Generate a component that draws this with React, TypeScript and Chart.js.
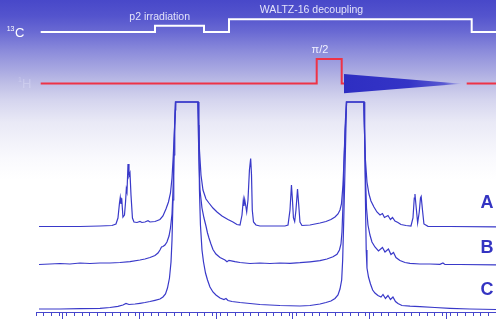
import React, { useEffect, useRef } from 'react';
import { Chart, registerables } from 'chart.js';

Chart.register(...registerables);

// ---------- Spectrum axis (arbitrary shift units, major tick every 10) ----------
const X_MIN = 6.52;
const X_MAX = 66.52;
const majorTicks = [10, 20, 30, 40, 50, 60];

// ---------- Spectra (x = shift units, y = stacked intensity, clipped at 210) ----------
const traceA: [number, number][] = [
  [6.91, 85.5], [12.26, 85.5], [14.87, 86], [16.43, 86.5], [16.95, 88], [17.21, 94], [17.41, 109],
  [17.51, 114.5], [17.6, 108], [17.7, 113.7], [17.86, 95], [18.06, 97], [18.19, 109], [18.3, 123],
  [18.39, 120], [18.52, 148], [18.65, 136], [18.78, 139], [18.91, 117], [19.1, 94], [19.3, 90],
  [19.69, 89.5], [20.08, 90.5], [20.34, 89.5], [20.73, 90], [21.13, 91.3], [21.39, 90], [22.04, 90.5],
  [22.69, 92.5], [23.08, 96], [23.47, 103], [23.8, 110], [24.06, 119], [24.26, 134], [24.43, 157],
  [24.58, 182], [24.71, 202], [24.75, 210], [27.67, 210], [27.73, 192], [27.84, 162], [28.04, 137],
  [28.3, 122], [28.69, 113], [29.08, 109], [29.6, 104], [30.13, 100], [30.78, 96], [31.56, 92.5],
  [32.21, 90], [32.73, 87.5], [33.13, 87], [33.39, 97], [33.56, 112], [33.65, 106], [33.74, 112.5],
  [33.84, 108], [34.0, 100], [34.17, 112], [34.36, 142], [34.52, 153.5], [34.63, 137], [34.73, 102],
  [34.89, 90], [35.21, 87], [35.73, 86], [37.04, 86], [38.99, 86], [39.39, 87], [39.65, 102],
  [39.84, 127], [39.97, 112], [40.1, 94], [40.26, 90.5], [40.43, 102], [40.63, 123], [40.79, 107],
  [40.95, 90], [41.21, 86.5], [42.26, 87], [43.56, 89], [44.34, 90.5], [44.99, 92.5], [45.52, 95],
  [45.91, 98], [46.17, 102], [46.36, 108], [46.56, 127], [46.75, 162], [46.92, 192], [47.04, 210],
  [49.26, 210], [49.36, 182], [49.49, 152], [49.69, 130], [49.95, 118], [50.21, 111], [50.6, 105],
  [50.99, 100], [51.39, 97], [51.71, 98.5], [51.97, 94.5], [52.43, 96.5], [52.75, 92.5], [53.02, 94.5],
  [53.34, 91], [53.73, 89.5], [54.12, 87.5], [54.78, 86.5], [55.43, 86], [55.69, 94], [55.86, 114],
  [55.95, 118], [56.08, 107], [56.3, 89], [56.51, 100], [56.67, 114], [56.76, 115.5], [56.93, 102],
  [57.12, 88], [57.65, 85.7], [60.52, 85.5], [66.52, 85.2],
];

const traceB: [number, number][] = [
  [6.91, 47.5], [8.34, 48], [9.65, 48.5], [10.95, 48], [12.26, 49], [13.56, 48.5], [14.87, 49],
  [16.17, 49], [17.47, 49.5], [18.78, 50.3], [20.08, 52], [20.73, 53], [21.39, 54.5], [22.04, 56.5],
  [22.43, 59], [22.69, 62], [22.89, 65], [23.08, 65.5], [23.34, 67], [23.6, 70], [23.87, 76],
  [24.06, 84], [24.26, 98], [24.39, 122], [24.52, 157], [24.62, 187], [24.73, 210], [27.62, 210],
  [27.67, 187], [27.78, 152], [27.91, 122], [28.17, 104], [28.43, 94], [28.69, 86], [28.89, 79],
  [29.08, 74], [29.34, 68], [29.6, 62.5], [29.99, 58], [30.52, 54.5], [31.17, 52], [31.43, 50.3],
  [31.69, 51.7], [32.47, 50.3], [33.13, 49.5], [34.43, 48.5], [35.73, 49], [37.04, 48.5], [38.34, 49],
  [39.65, 48.7], [40.95, 49.3], [42.26, 50.2], [43.56, 51.3], [44.47, 53], [45.26, 55.3], [45.78, 57.7],
  [46.1, 62], [46.3, 68], [46.43, 80], [46.56, 107], [46.69, 147], [46.82, 182], [47.0, 210],
  [49.3, 210], [49.38, 177], [49.49, 137], [49.63, 104], [49.82, 87], [50.08, 77], [50.34, 70],
  [50.73, 65], [51.19, 61], [51.71, 64.5], [52.04, 60], [52.49, 63], [52.82, 57.5], [53.15, 59.5],
  [53.47, 54.5], [53.99, 51.5], [54.65, 49.5], [55.3, 48.7], [56.6, 48], [57.91, 48], [59.21, 47.7],
  [59.6, 49], [59.86, 47.5], [61.82, 47.5], [66.52, 47.2],
];

const traceC: [number, number][] = [
  [6.91, 3], [9.65, 3], [12.26, 3.3], [14.87, 3.7], [16.17, 4.5], [17.21, 5.7], [17.86, 7],
  [18.26, 8.5], [18.65, 7.5], [19.43, 8], [20.08, 8.7], [20.73, 9.5], [21.39, 10.5], [22.04, 11.7],
  [22.69, 13], [23.08, 15], [23.41, 18], [23.67, 24], [23.93, 34], [24.13, 50], [24.26, 72],
  [24.39, 112], [24.49, 152], [24.6, 187], [24.7, 210], [27.7, 210], [27.76, 172], [27.84, 122],
  [27.97, 87], [28.17, 62], [28.37, 50], [28.63, 39], [28.89, 32], [29.21, 25], [29.6, 20],
  [29.99, 17], [30.52, 14], [31.04, 12.5], [31.3, 13.5], [31.56, 11.5], [32.08, 10.5], [33.13, 9.5],
  [34.43, 8.5], [35.73, 7.5], [38.34, 6.5], [40.95, 6], [42.26, 6.5], [43.56, 8], [44.34, 9.5],
  [44.99, 11], [45.52, 13.5], [45.91, 17], [46.17, 23], [46.39, 32], [46.52, 52], [46.66, 92],
  [46.79, 132], [46.91, 172], [47.02, 210], [49.33, 210], [49.4, 172], [49.49, 112], [49.59, 62],
  [49.69, 44], [49.89, 35], [50.15, 28], [50.43, 22], [50.73, 19], [51.12, 16.5], [51.52, 15],
  [51.78, 17.5], [52.1, 13.5], [52.43, 16.5], [52.75, 12.5], [53.08, 15], [53.41, 10.5], [53.73, 8.5],
  [54.25, 6.5], [55.3, 5.8], [56.6, 5.3], [58.56, 4.5], [60.52, 3.7], [63.12, 3], [66.52, 2.5],
];

const traceNames = ['A', 'B', 'C'];
const traceNameX = 65.34;
const traceNameY = [103.7, 58.7, 17.5];

// ---------- Pulse sequence (t = time units, level = schematic height) ----------
const carbonTimes = [4.7, 119, 119, 168, 168, 193, 193, 435.7, 435.7, 460];
const carbonLevels = [280, 280, 286.3, 286.3, 280, 280, 292.7, 292.7, 280, 280];
const protonTimes = [4.7, 280.7, 280.7, 305.7, 305.7, 308, 369, 430.7, 460];
const protonLevels = [228.5, 228.5, 253, 253, 228.5, 228.5, null, 228.5, 228.5];
const fidTimes = [308, 425.7];
const fidUpper = [238, 228.3];
const fidLower = [218.7, 228.3];

const seqTexts: { text: string; t: number; level: number; size: number; align: CanvasTextAlign; color: string }[] = [
  { text: 'p2 irradiation', t: 123.7, level: 292.5, size: 10.5, align: 'center', color: '#e2e2fa' },
  { text: 'WALTZ-16 decoupling', t: 275.5, level: 298.6, size: 10.5, align: 'center', color: '#e2e2fa' },
  { text: 'π/2', t: 284, level: 259.5, size: 11, align: 'center', color: '#f0f0ff' },
  { text: '13', t: -29.3, level: 281.3, size: 7, align: 'left', color: '#ffffff' },
  { text: 'C', t: -21, level: 275.3, size: 13, align: 'left', color: '#ffffff' },
  { text: '1', t: -18, level: 230, size: 7, align: 'left', color: 'rgba(235,235,255,0.3)' },
  { text: 'H', t: -14, level: 224.5, size: 13, align: 'left', color: 'rgba(235,235,255,0.3)' },
];

const bgStops: [number, string][] = [
  [0, '#4848c9'], [0.05, '#5454cd'], [0.1, '#6a6ad3'], [0.16, '#8c8cdb'], [0.26, '#bebee6'],
  [0.31, '#d4d4ee'], [0.38, '#e9e9f6'], [0.49, '#f9f9fd'], [0.56, '#ffffff'], [1, '#ffffff'],
];

const TRACE_COLOR = '#3939c9';
const AXIS_COLOR = '#4646cc';
const FID_COLOR = '#3232c4';
const FONT = '"Liberation Sans", Arial, Helvetica, sans-serif';

const toPts = (arr: [number, number][]) => arr.map(([x, y]) => ({ x, y }));
const zip = (xs: number[], ys: (number | null)[]) => xs.map((x, i) => ({ x, y: ys[i] }));

const decorPlugin = {
  id: 'decor',
  beforeDraw(chart: any) {
    const { ctx, width, height } = chart;
    const g = ctx.createLinearGradient(0, 0, 0, height);
    bgStops.forEach(([o, c]) => g.addColorStop(o, c));
    ctx.save();
    ctx.fillStyle = g;
    ctx.fillRect(0, 0, width, height);
    ctx.restore();
  },
  afterDraw(chart: any) {
    const { ctx, scales, chartArea } = chart;
    const sx = scales.x, sy = scales.y, xt = scales.xt, ys = scales.ys;
    ctx.save();
    // major ticks
    ctx.strokeStyle = AXIS_COLOR;
    ctx.lineWidth = 1;
    const yb = chartArea.bottom;
    majorTicks.forEach((v) => {
      const px = Math.round(sx.getPixelForValue(v) - 0.5) + 0.5;
      ctx.beginPath();
      ctx.moveTo(px, yb);
      ctx.lineTo(px, yb + 7);
      ctx.stroke();
    });
    // trace labels
    ctx.fillStyle = '#3434c2';
    ctx.font = `bold 18px ${FONT}`;
    ctx.textAlign = 'center';
    ctx.textBaseline = 'alphabetic';
    traceNames.forEach((n, i) => {
      ctx.fillText(n, sx.getPixelForValue(traceNameX), sy.getPixelForValue(traceNameY[i]));
    });
    // pulse sequence labels
    seqTexts.forEach((s) => {
      ctx.font = `${s.size}px ${FONT}`;
      ctx.fillStyle = s.color;
      ctx.textAlign = s.align;
      ctx.fillText(s.text, xt.getPixelForValue(s.t), ys.getPixelForValue(s.level));
    });
    ctx.restore();
  },
};

function fidGradient(c: any) {
  const ch = c.chart;
  const { ctx, chartArea } = ch;
  const st = ch.scales && ch.scales.xt;
  if (!chartArea || !st) return FID_COLOR;
  const x0 = st.getPixelForValue(fidTimes[0]);
  const x1 = st.getPixelForValue(fidTimes[1]);
  if (!isFinite(x0) || !isFinite(x1) || x1 <= x0) return FID_COLOR;
  const g = ctx.createLinearGradient(x0, 0, x1, 0);
  g.addColorStop(0, '#2e2ec2');
  g.addColorStop(0.55, '#3434c6');
  g.addColorStop(0.85, '#5a5ad2');
  g.addColorStop(1, '#b4b4e8');
  return g;
}

export default function App() {
  const ref = useRef<HTMLCanvasElement | null>(null);

  useEffect(() => {
    if (!ref.current) return;
    const spectrum = {
      borderColor: TRACE_COLOR,
      borderWidth: 1.2,
      pointRadius: 0,
      tension: 0,
      fill: false,
      xAxisID: 'x',
      yAxisID: 'y',
    };
    const chart = new Chart(ref.current, {
      type: 'line',
      data: {
        datasets: [
          {
            label: '13C',
            data: zip(carbonTimes, carbonLevels),
            borderColor: '#ffffff',
            borderWidth: 2,
            pointRadius: 0,
            tension: 0,
            fill: false,
            xAxisID: 'xt',
            yAxisID: 'ys',
          },
          {
            label: '1H',
            data: zip(protonTimes, protonLevels),
            borderColor: '#ee3346',
            borderWidth: 2,
            pointRadius: 0,
            tension: 0,
            fill: false,
            spanGaps: false,
            xAxisID: 'xt',
            yAxisID: 'ys',
          },
          {
            label: 'FID upper',
            data: zip(fidTimes, fidUpper),
            borderColor: 'rgba(0,0,0,0)',
            borderWidth: 0,
            pointRadius: 0,
            tension: 0,
            fill: '+1',
            backgroundColor: fidGradient,
            xAxisID: 'xt',
            yAxisID: 'ys',
          },
          {
            label: 'FID lower',
            data: zip(fidTimes, fidLower),
            borderColor: 'rgba(0,0,0,0)',
            borderWidth: 0,
            pointRadius: 0,
            tension: 0,
            fill: false,
            xAxisID: 'xt',
            yAxisID: 'ys',
          },
          { label: 'A', data: toPts(traceA), ...spectrum },
          { label: 'B', data: toPts(traceB), ...spectrum },
          { label: 'C', data: toPts(traceC), ...spectrum },
        ],
      },
      options: {
        responsive: false,
        animation: false,
        devicePixelRatio: 1,
        events: [],
        layout: { padding: { left: 36, right: 0, top: 0, bottom: 0 } },
        plugins: { legend: { display: false }, tooltip: { enabled: false } },
        scales: {
          x: {
            type: 'linear',
            position: 'bottom',
            min: X_MIN,
            max: X_MAX,
            ticks: { display: false, stepSize: 1, includeBounds: false },
            grid: { drawOnChartArea: false, drawTicks: true, tickLength: 4, color: AXIS_COLOR, lineWidth: 1 },
            border: { display: true, color: AXIS_COLOR, width: 1 },
            afterFit: (s: any) => { s.height = 9; },
          },
          y: { type: 'linear', display: false, min: 0, max: 312 },
          xt: { type: 'linear', axis: 'x', position: 'bottom', display: false, min: 0, max: 460 },
          ys: { type: 'linear', axis: 'y', position: 'left', display: false, min: 0, max: 312 },
        },
      } as any,
      plugins: [decorPlugin],
    });
    return () => chart.destroy();
  }, []);

  return (
    <div style={{ position: 'fixed', left: 0, top: 0, width: 496, height: 321, background: '#ffffff' }}>
      <canvas ref={ref} width={496} height={321} style={{ display: 'block' }} />
    </div>
  );
}
